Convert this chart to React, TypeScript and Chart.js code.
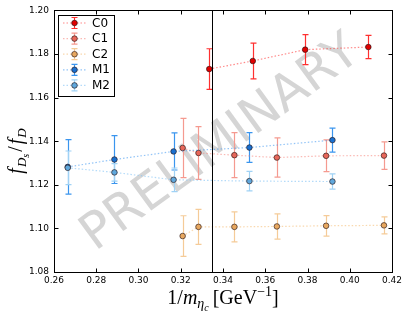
import React, { useEffect, useRef } from "react";
import { Chart, registerables } from "chart.js";
Chart.register(...registerables);

// ---- data ----
const xMin = 0.26, xMax = 0.42, xStep = 0.02;
const yMin = 1.08, yMax = 1.2, yStep = 0.02;
const physX = 0.3348;

const c0X = [0.3335, 0.3541, 0.3789, 0.4088];
const c0Y = [1.1731, 1.1768, 1.182, 1.1832];
const c0Err = [0.0093, 0.0082, 0.0069, 0.0053];

const cX = [0.3209, 0.3284, 0.3454, 0.3655, 0.3888, 0.4162];
const c1Y = [1.1369, 1.1346, 1.1336, 1.1325, 1.1333, 1.1334];
const c1Err = [0.0136, 0.0121, 0.0103, 0.009, 0.0073, 0.0063];
const c2Y = [1.0965, 1.1007, 1.1007, 1.1009, 1.1012, 1.1014];
const c2Err = [0.0093, 0.008, 0.0069, 0.0058, 0.0047, 0.0039];

const mX = [0.2665, 0.2886, 0.3166, 0.3525, 0.3918];
const m1Y = [1.1282, 1.1316, 1.1353, 1.1371, 1.1405];
const m1Err = [0.0125, 0.011, 0.0085, 0.0068, 0.0055];
const m2Y = [1.1278, 1.1257, 1.1223, 1.1217, 1.1215];
const m2Err = [0.0077, 0.004, 0.0054, 0.0045, 0.0035];

const seriesNames = ["C0", "C1", "C2", "M1", "M2"];
const markerColors = ["#e00000", "#e8675a", "#e8a860", "#1a70d0", "#60a8dd"];
const errColors = ["#ff3030", "#f59a90", "#f5cb98", "#3a95ee", "#a0d2f5"];
const lineColors = [
  "rgba(255,40,40,0.55)",
  "rgba(245,130,120,0.55)",
  "rgba(245,190,120,0.6)",
  "rgba(60,150,240,0.55)",
  "rgba(130,195,245,0.6)",
];

const seriesX = [c0X, cX, cX, mX, mX];
const seriesY = [c0Y, c1Y, c2Y, m1Y, m2Y];
const seriesErr = [c0Err, c1Err, c2Err, m1Err, m2Err];

type Seg = { t: string; font: string; dy: number; gap?: number };
function richWidth(ctx: CanvasRenderingContext2D, segs: Seg[]) {
  let w = 0;
  for (const s of segs) {
    ctx.font = s.font;
    w += ctx.measureText(s.t).width + (s.gap || 0);
  }
  return w;
}
function drawRich(ctx: CanvasRenderingContext2D, segs: Seg[], x: number, y: number) {
  const w = richWidth(ctx, segs);
  let cx = x - w / 2;
  ctx.textBaseline = "alphabetic";
  ctx.textAlign = "left";
  for (const s of segs) {
    ctx.font = s.font;
    ctx.fillText(s.t, cx, y + s.dy);
    cx += ctx.measureText(s.t).width + (s.gap || 0);
  }
}

const SERIF = "'Liberation Serif', 'DejaVu Serif', serif";
const SANS = "'DejaVu Sans', sans-serif";

const decorPlugin = {
  id: "decor",
  beforeDatasetsDraw(chart: any) {
    const ctx = chart.ctx as CanvasRenderingContext2D;
    const xs = chart.scales.x, ys = chart.scales.y;
    // watermark
    ctx.save();
    ctx.translate(221, 144);
    ctx.rotate((-36 * Math.PI) / 180);
    ctx.font = "50px " + SANS;
    ctx.fillStyle = "rgba(128,128,128,0.33)";
    ctx.textAlign = "center";
    ctx.textBaseline = "middle";
    ctx.fillText("PRELIMINARY", 0, 0);
    ctx.restore();
    // error bars
    ctx.save();
    for (let i = 0; i < seriesNames.length; i++) {
      ctx.strokeStyle = errColors[i];
      ctx.lineWidth = 1.2;
      const X = seriesX[i], Y = seriesY[i], E = seriesErr[i];
      for (let k = 0; k < X.length; k++) {
        const px = Math.round(xs.getPixelForValue(X[k])) + 0.5;
        const t = ys.getPixelForValue(Y[k] + E[k]);
        const b = ys.getPixelForValue(Y[k] - E[k]);
        ctx.beginPath();
        ctx.moveTo(px, t);
        ctx.lineTo(px, b);
        ctx.moveTo(px - 3, t);
        ctx.lineTo(px + 3, t);
        ctx.moveTo(px - 3, b);
        ctx.lineTo(px + 3, b);
        ctx.stroke();
      }
    }
    ctx.restore();
  },
  afterDraw(chart: any) {
    const ctx = chart.ctx as CanvasRenderingContext2D;
    const a = chart.chartArea;
    const xs = chart.scales.x, ys = chart.scales.y;
    ctx.save();
    ctx.strokeStyle = "#000";
    ctx.lineWidth = 1;
    // frame
    const L = Math.round(a.left) + 0.5, R = Math.round(a.right) + 0.5;
    const T = Math.round(a.top) + 0.5, B = Math.round(a.bottom) + 0.5;
    ctx.strokeRect(L, T, R - L, B - T);
    // ticks inward
    ctx.beginPath();
    for (const tk of xs.ticks) {
      const px = Math.round(xs.getPixelForValue(tk.value)) + 0.5;
      ctx.moveTo(px, B); ctx.lineTo(px, B - 4);
      ctx.moveTo(px, T); ctx.lineTo(px, T + 4);
    }
    for (const tk of ys.ticks) {
      const py = Math.round(ys.getPixelForValue(tk.value)) + 0.5;
      ctx.moveTo(L, py); ctx.lineTo(L + 4, py);
      ctx.moveTo(R, py); ctx.lineTo(R - 4, py);
    }
    ctx.stroke();
    // physical point line
    const vx = Math.round(xs.getPixelForValue(physX)) + 0.5;
    ctx.beginPath();
    ctx.moveTo(vx, T); ctx.lineTo(vx, B);
    ctx.stroke();

    // legend
    const lx = 58.5, ly = 15.5, lw = 56, lh = 81;
    ctx.fillStyle = "#fff";
    ctx.fillRect(lx, ly, lw, lh);
    ctx.strokeRect(lx, ly, lw, lh);
    for (let i = 0; i < seriesNames.length; i++) {
      const cy = 23 + i * 15.6;
      const ix = 74.5;
      ctx.save();
      ctx.strokeStyle = lineColors[i];
      ctx.lineWidth = 1.2;
      ctx.setLineDash([1.5, 2]);
      ctx.beginPath();
      ctx.moveTo(63, cy); ctx.lineTo(86, cy);
      ctx.stroke();
      ctx.restore();
      ctx.strokeStyle = errColors[i];
      ctx.lineWidth = 1.2;
      ctx.beginPath();
      ctx.moveTo(ix, cy - 5.5); ctx.lineTo(ix, cy + 5.5);
      ctx.moveTo(ix - 3, cy - 5.5); ctx.lineTo(ix + 3, cy - 5.5);
      ctx.moveTo(ix - 3, cy + 5.5); ctx.lineTo(ix + 3, cy + 5.5);
      ctx.stroke();
      ctx.beginPath();
      ctx.arc(ix, cy, 2.8, 0, Math.PI * 2);
      ctx.fillStyle = markerColors[i];
      ctx.fill();
      ctx.strokeStyle = "rgba(40,20,20,0.8)";
      ctx.lineWidth = 0.8;
      ctx.stroke();
      ctx.fillStyle = "#000";
      ctx.font = "12px " + SANS;
      ctx.textAlign = "left";
      ctx.textBaseline = "middle";
      ctx.fillText(seriesNames[i], 92, cy + 0.5);
    }

    // axis titles
    ctx.fillStyle = "#000";
    const big = 20, mid = 14, small = 10;
    drawRich(ctx, [
      { t: "1/", font: `${big}px ${SERIF}`, dy: 0 },
      { t: "m", font: `italic ${big}px ${SERIF}`, dy: 0 },
      { t: "η", font: `italic ${mid}px ${SERIF}`, dy: 4 },
      { t: "c", font: `italic ${small}px ${SERIF}`, dy: 7, gap: 4 },
      { t: "[GeV", font: `${big}px ${SERIF}`, dy: 0 },
      { t: "−1", font: `${mid}px ${SERIF}`, dy: -8 },
      { t: "]", font: `${big}px ${SERIF}`, dy: 0 },
    ], (a.left + a.right) / 2, 304);

    ctx.save();
    ctx.translate(22, 151);
    ctx.rotate(-Math.PI / 2);
    drawRich(ctx, [
      { t: "f", font: `italic ${big}px ${SERIF}`, dy: 0, gap: 1 },
      { t: "D", font: `italic ${mid - 1}px ${SERIF}`, dy: 4 },
      { t: "s", font: `italic ${small}px ${SERIF}`, dy: 7, gap: 2 },
      { t: "/", font: `${big}px ${SERIF}`, dy: 0, gap: 2 },
      { t: "f", font: `italic ${big}px ${SERIF}`, dy: 0, gap: 1 },
      { t: "D", font: `italic ${mid - 1}px ${SERIF}`, dy: 4 },
    ], 0, 0);
    ctx.restore();
    ctx.restore();
  },
};

export default function App() {
  const ref = useRef<HTMLCanvasElement>(null);
  useEffect(() => {
    if (!ref.current) return;
    const datasets = seriesNames.map((name, i) => ({
      label: name,
      data: seriesX[i].map((x, k) => ({ x, y: seriesY[i][k] })),
      showLine: true,
      borderColor: lineColors[i],
      borderWidth: 1.2,
      borderDash: [1.5, 2],
      pointRadius: 2.8,
      pointBorderWidth: 0.8,
      pointBackgroundColor: markerColors[i],
      pointBorderColor: "rgba(40,20,20,0.8)",
      order: seriesNames.length - i,
    }));
    const chart = new Chart(ref.current, {
      type: "scatter",
      data: { datasets },
      options: {
        animation: false,
        responsive: false,
        maintainAspectRatio: false,
        layout: { padding: { left: 0, top: 10, right: 15, bottom: 0 } },
        plugins: { legend: { display: false }, tooltip: { enabled: false } },
        scales: {
          x: {
            type: "linear",
            min: xMin,
            max: xMax,
            grid: { display: false, drawTicks: false },
            border: { display: false },
            ticks: {
              stepSize: xStep,
              padding: 3,
              color: "#000",
              font: { family: "DejaVu Sans", size: 9 },
              maxRotation: 0,
              callback: (v: any) => Number(v).toFixed(2),
            },
            afterFit: (s: any) => { s.height = 45; },
          },
          y: {
            type: "linear",
            min: yMin,
            max: yMax,
            grid: { display: false, drawTicks: false },
            border: { display: false },
            ticks: {
              stepSize: yStep,
              padding: 5,
              color: "#000",
              font: { family: "DejaVu Sans", size: 9 },
              callback: (v: any) => Number(v).toFixed(2),
            },
            afterFit: (s: any) => { s.width = 54; },
          },
        },
      },
      plugins: [decorPlugin],
    });
    return () => chart.destroy();
  }, []);
  return (
    <div style={{ position: "absolute", left: 0, top: 0, width: 407, height: 317, background: "#fff" }}>
      <canvas ref={ref} width={407} height={317} style={{ width: 407, height: 317, display: "block" }} />
    </div>
  );
}
